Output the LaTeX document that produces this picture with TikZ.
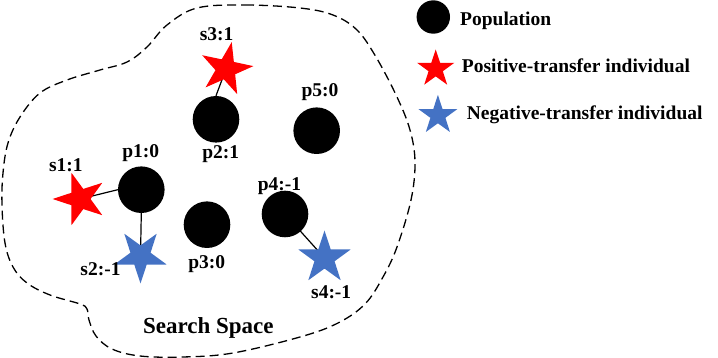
\documentclass[tikz,border=0pt]{standalone}
\usepackage{fontspec}
\setmainfont{Liberation Serif}
\usetikzlibrary{shapes.geometric,backgrounds}
\definecolor{negblue}{RGB}{68,114,196}
\begin{document}
\begin{tikzpicture}[x=1pt,y=-1pt,
  pop/.style={circle,fill=black,inner sep=0pt,minimum size=46.6pt},
  starshape/.style={star,star points=5,star point ratio=2.6,inner sep=0pt,minimum size=55pt},
  posstar/.style={starshape,fill=red},
  negstar/.style={starshape,fill=negblue},
  lbl/.style={anchor=base,inner sep=0pt,font=\fontsize{19.5}{22}\selectfont\bfseries},
  legtext/.style={anchor=base west,inner sep=0pt,font=\fontsize{19.5}{22}\selectfont\bfseries},
  link/.style={line width=1.2pt},
  blob/.style={dash pattern=on 9pt off 5pt,line width=1.3pt}
]
\useasboundingbox (0,0) rectangle (718,358);

% search space
\draw[blob] plot[smooth cycle,tension=0.6] coordinates {
 (197,8) (245,5) (300,8) (333,15) (357,30) (376,57) (397,97) (410,130)
 (415,162) (411,200) (397,247) (383,277) (365,304) (338,323) (300,337)
 (233,353) (183,357) (140,356) (112,349) (96,336) (89,320) (87,309)
 (80,304) (50,295) (27,283) (13,267) (5,243) (2,205) (3,173) (8,143)
 (20,117) (40,93) (67,80) (100,70) (127,62) (147,47) (167,25)};

% population
\node[pop] (p1) at (141.3,189.7) {};
\node[pop] (p2) at (216,119.3) {};
\node[pop] (p3) at (207,224.7) {};
\node[pop] (p4) at (285,214) {};
\node[pop] (p5) at (316.7,130.7) {};

% transferred individuals
\node[posstar,shape border rotate=90] (s1) at (80,199) {};
\node[negstar,shape border rotate=180] (s2) at (140.5,256) {};
\node[posstar,shape border rotate=-12] (s3) at (226,69) {};
\node[negstar] (s4) at (324.5,258) {};

\begin{scope}[on background layer]
\fill[white] (0,0) rectangle (718,358);
\draw[link] (s1.center) -- (p1.west);
\draw[link] (p1.south) -- (s2.center);
\draw[link] (p2.north) -- (s3.center);
\draw[link] (p4.center) -- (s4.center);
\end{scope}

% labels
\node[lbl] (ls3) at (216.7,40.7) {s3:1};
\node[lbl] (lp5) at (320,96.7) {p5:0};
\node[lbl] (lp2) at (220.7,159) {p2:1};
\node[lbl] (lp1) at (140.8,157.3) {p1:0};
\node[lbl] (ls1) at (65.8,171.7) {s1:1};
\node[lbl] (lp4) at (279.5,190.7) {p4:-1};
\node[lbl] (ls2) at (100.5,276) {s2:-1};
\node[lbl] (lp3) at (206.7,268.7) {p3:0};
\node[lbl] (ls4) at (331.2,298.3) {s4:-1};
\node[lbl,font=\fontsize{23}{26}\selectfont\bfseries] (ss) at (208.3,333.3) {Search Space};

% legend
\node[pop,minimum size=33.4pt] (legp) at (433.3,17) {};
\node[posstar,minimum size=39pt] (legs) at (435.7,68.9) {};
\node[negstar,minimum size=41pt] (legn) at (437.9,115.4) {};
\node[legtext] (tp) at (460,26) {Population};
\node[legtext] (ts) at (461.7,72.7) {Positive-transfer individual};
\node[legtext] (tn) at (466.7,119.3) {Negative-transfer individual};
\end{tikzpicture}
\end{document}
